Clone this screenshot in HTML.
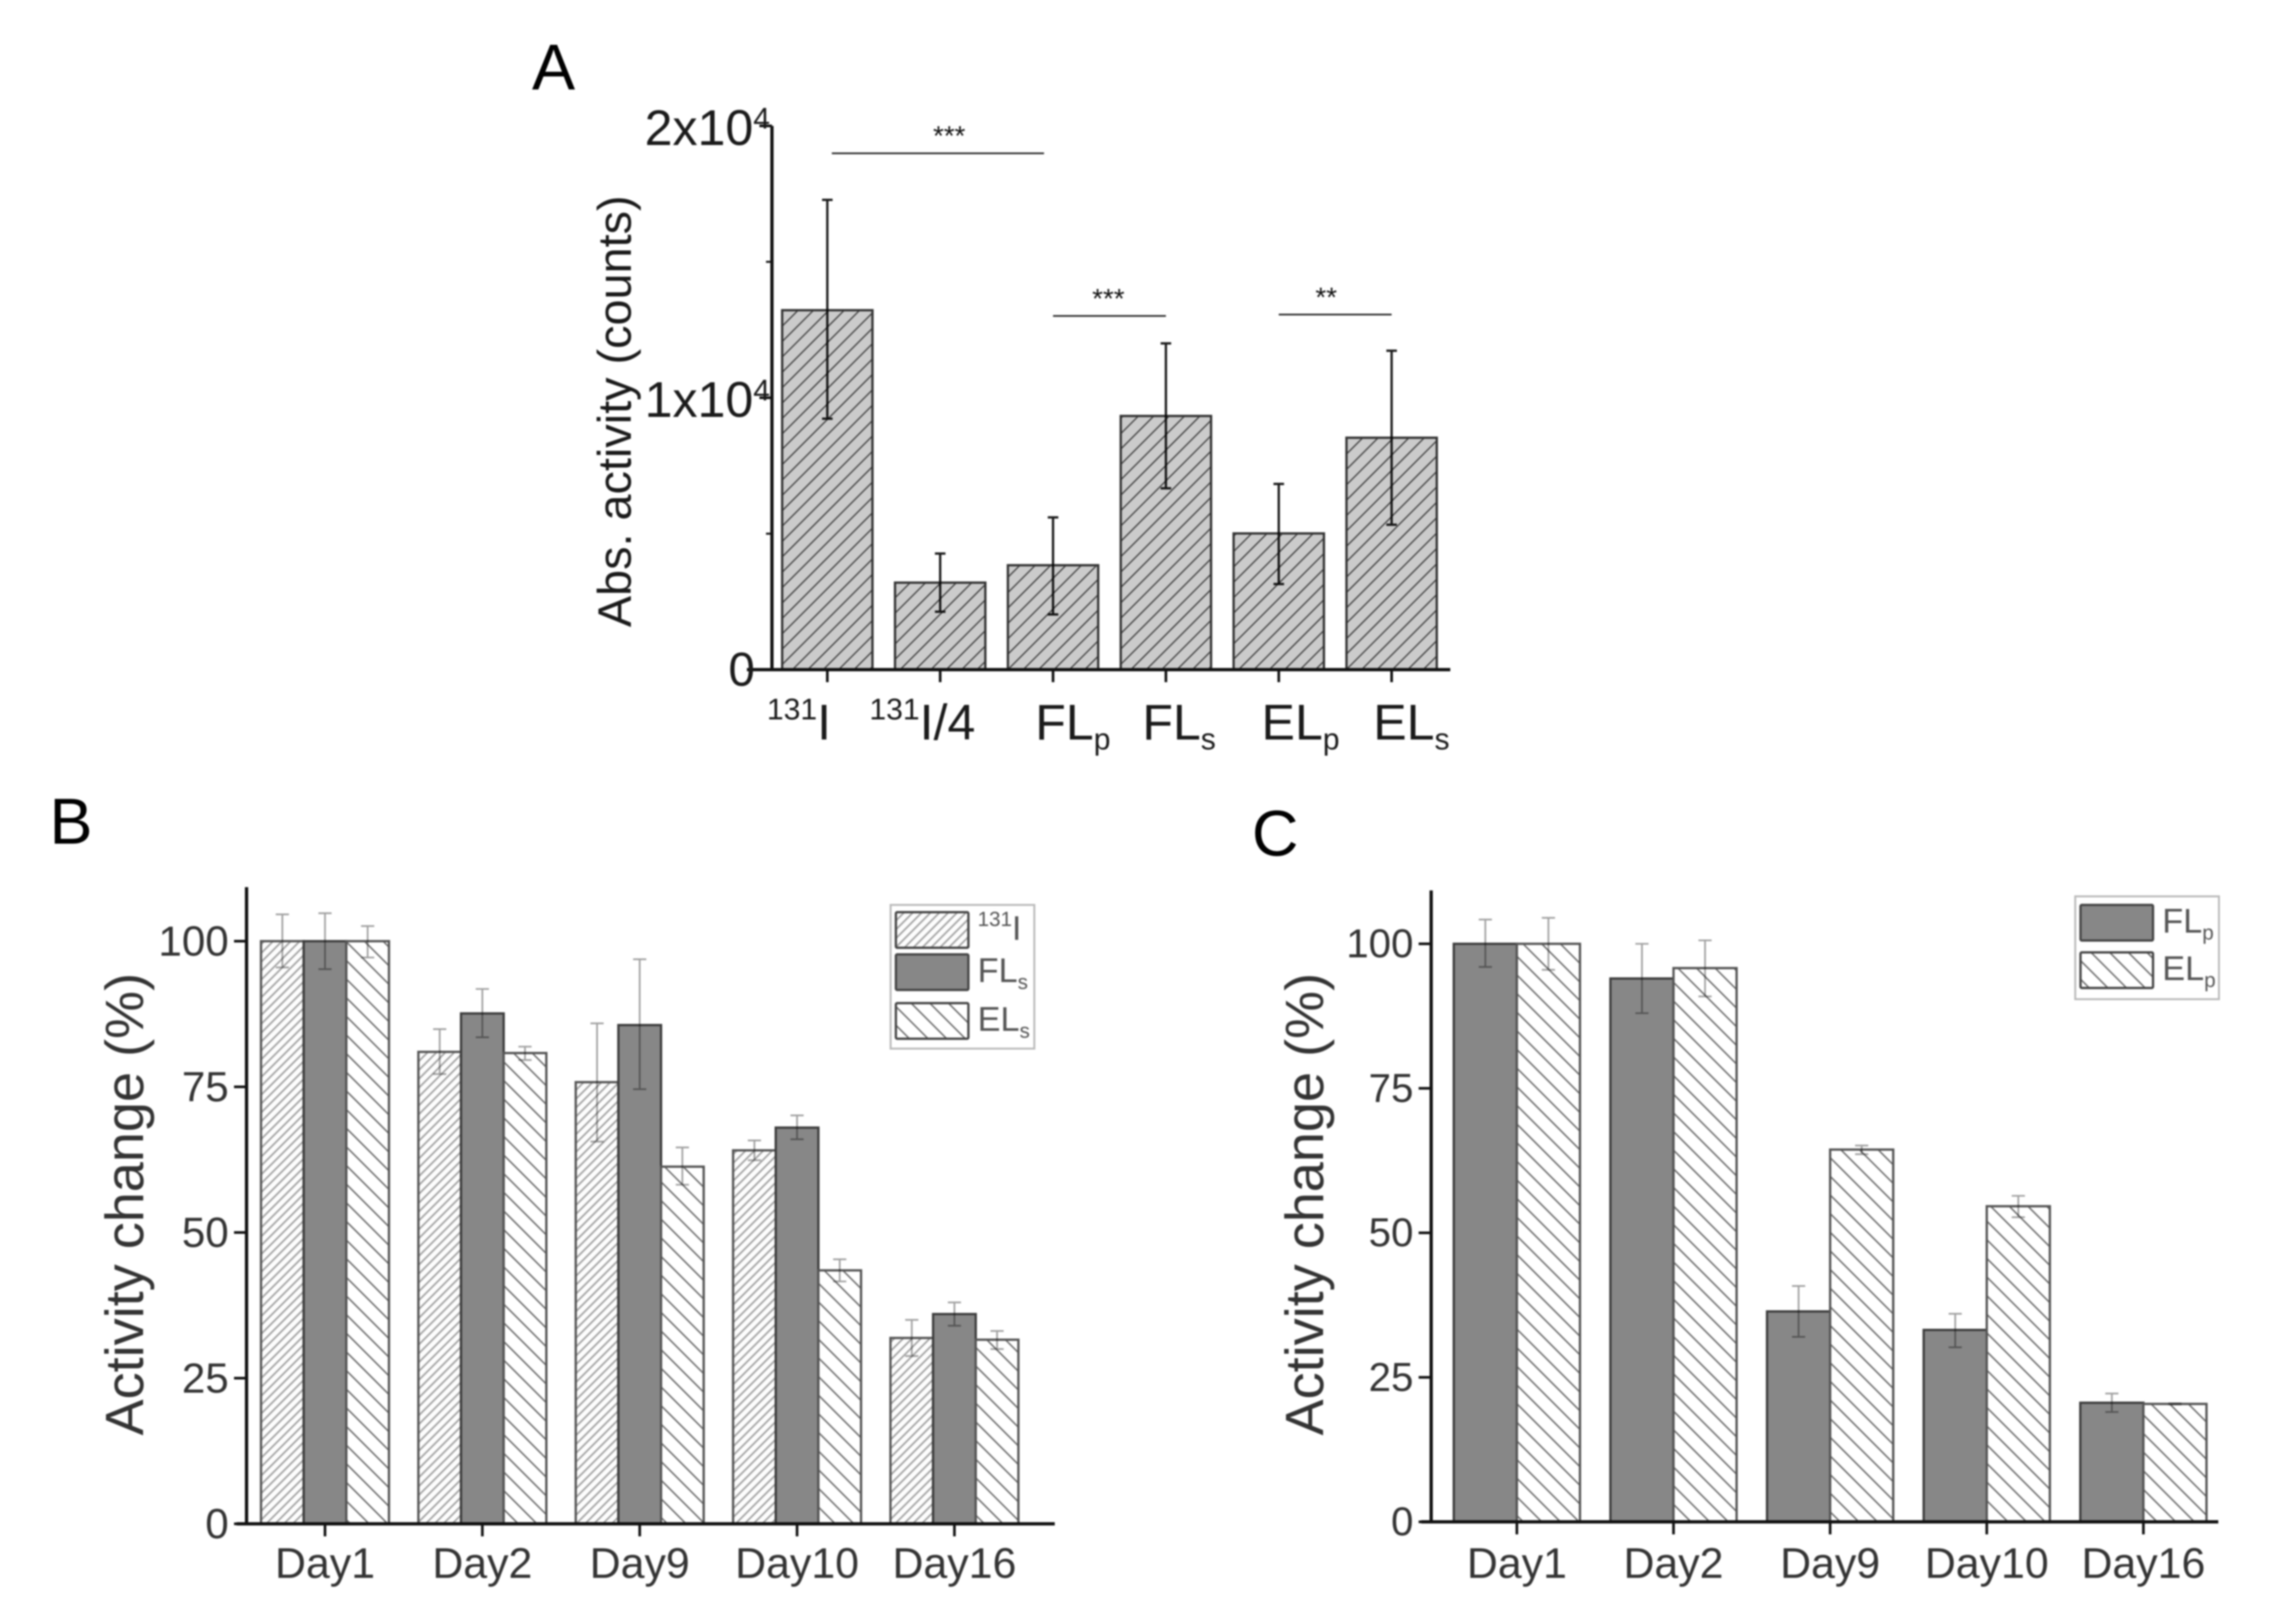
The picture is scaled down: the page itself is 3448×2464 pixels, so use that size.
<!DOCTYPE html>
<html lang="en">
<head>
<meta charset="utf-8">
<title>Activity charts</title>
<style>
html,body{margin:0;padding:0;background:#fff;width:3448px;height:2464px;overflow:hidden}
svg{display:block;filter:blur(1.3px)}
text{font-family:"Liberation Sans",sans-serif}
</style>
</head>
<body>
<svg id="chart" xmlns="http://www.w3.org/2000/svg" width="3448" height="2464" viewBox="0 0 3448 2464">
<defs>
<pattern id="hatch-a" patternUnits="userSpaceOnUse" width="16.5" height="16.5" patternTransform="rotate(45)"><rect width="16.5" height="16.5" fill="#cbcbcb"/><rect width="1.9" height="16.5" fill="#3a3a3a"/></pattern>
<pattern id="hatch-dense" patternUnits="userSpaceOnUse" width="9.5" height="9.5" patternTransform="rotate(45)"><rect width="9.5" height="9.5" fill="#fdfdfd"/><rect width="2.6" height="9.5" fill="#a2a2a2"/></pattern>
<pattern id="hatch-wide" patternUnits="userSpaceOnUse" width="20" height="20" patternTransform="rotate(-45)"><rect width="20" height="20" fill="#fff"/><rect width="2.2" height="20" fill="#666"/></pattern>
</defs>
<text x="807" y="136" font-size="98" fill="#000">A</text>
<text x="75" y="1280" font-size="98" fill="#000">B</text>
<text x="1899" y="1298" font-size="98" fill="#000">C</text>
</svg>
<script>
// Panel A data
const aCategories = ['^131^I', '^131^I/4', 'FL_p_', 'FL_s_', 'EL_p_', 'EL_s_'];
const aValues = [13220, 3200, 3840, 9330, 5010, 8530];
const aErrHigh = [17280, 4270, 5600, 12000, 6830, 11730];
const aErrLow = [9230, 2130, 2030, 6670, 3150, 5330];
const aTicks = [0, 10000, 20000];
const aTickLabels = ['0', '1x10^4^', '2x10^4^'];
const aMinorTicks = [5000, 15000];
const aBracketFrom = [0.04, 2, 4];
const aBracketTo = [1.92, 3, 5];
const aBracketValue = [18990, 13010, 13060];
const aBracketStars = ['***', '***', '**'];
const aBracketStarAt = [1.08, 2.49, 4.42];

// Panel B data
const bCategories = ['Day1', 'Day2', 'Day9', 'Day10', 'Day16'];
const bIodine = [100, 81, 75.8, 64.1, 31.9];
const bIodineHigh = [104.6, 84.9, 85.9, 65.8, 35];
const bIodineLow = [95.5, 77.2, 65.6, 62.4, 28.8];
const bFLs = [100, 87.6, 85.6, 68, 36];
const bFLsHigh = [104.8, 91.8, 96.9, 70.1, 38];
const bFLsLow = [95.2, 83.5, 74.6, 66, 34];
const bELs = [100, 80.8, 61.3, 43.5, 31.6];
const bELsHigh = [102.6, 81.9, 64.6, 45.4, 33.1];
const bELsLow = [97.2, 79.6, 58.2, 41.6, 30];

// Panel C data
const cCategories = ['Day1', 'Day2', 'Day9', 'Day10', 'Day16'];
const cFLp = [100, 94, 36.4, 33.2, 20.6];
const cFLpHigh = [104.2, 100, 40.8, 36, 22.2];
const cFLpLow = [96, 88, 32, 30.2, 19];
const cELp = [100, 95.8, 64.4, 54.6, 20.4];
const cELpHigh = [104.5, 100.6, 65.1, 56.4, 20.5];
const cELpLow = [95.5, 90.9, 63.6, 52.7, 20.3];

const valueTicks = [0, 25, 50, 75, 100];

const NS = 'http://www.w3.org/2000/svg';
const root = document.getElementById('chart');

function make(tag, attrs, parent) {
  const el = document.createElementNS(NS, tag);
  for (const k in attrs) el.setAttribute(k, attrs[k]);
  (parent || root).appendChild(el);
  return el;
}

// "^x^" is superscript and "_x_" is subscript inside a label string
function fillLabel(el, label, size, ratio, rise) {
  const parts = label.split(/(\^[^^]*\^|_[^_]*_)/).filter(Boolean);
  let shift = 0;
  parts.forEach(function (p) {
    const t = document.createElementNS(NS, 'tspan');
    let dy = 0;
    if (p[0] === '^') { dy = -rise * size; t.setAttribute('font-size', size * ratio); t.textContent = p.slice(1, -1); }
    else if (p[0] === '_') { dy = 0.2 * size; t.setAttribute('font-size', size * ratio); t.textContent = p.slice(1, -1); }
    else { t.textContent = p; }
    t.setAttribute('dy', dy - shift);
    shift = dy;
    el.appendChild(t);
  });
}

function drawPanel(cfg) {
  const g = make('g', {});
  
  

  const y = function (v) { return cfg.y0 - (v / cfg.vMax) * (cfg.y0 - cfg.yMaxPx); };
  const x = function (i) { return cfg.x0Center + i * cfg.step; };

  cfg.series.forEach(function (s, si) {
    s.values.forEach(function (v, i) {
      const left = x(i) + (si - cfg.series.length / 2) * cfg.barW;
      const bar = make('rect', { x: left, y: y(v), width: cfg.barW, height: cfg.y0 - y(v), fill: s.fill, stroke: s.stroke, 'stroke-width': 3.5 }, g);
      
      
    });
  });

  cfg.series.forEach(function (s, si) {
    s.values.forEach(function (v, i) {
      const cx = x(i) + (si - cfg.series.length / 2 + 0.5) * cfg.barW;
      const d = 'M' + cx + ' ' + y(s.high[i]) + 'V' + y(s.low[i]) +
        'M' + (cx - cfg.cap) + ' ' + y(s.high[i]) + 'H' + (cx + cfg.cap) +
        'M' + (cx - cfg.cap) + ' ' + y(s.low[i]) + 'H' + (cx + cfg.cap);
      const err = make('path', { d: d, fill: 'none', stroke: cfg.errColor, 'stroke-width': cfg.errW, style: 'mix-blend-mode:multiply' }, g);
      
      
    });
  });

  const yAxis = make('line', { x1: cfg.axisX, x2: cfg.axisX, y1: cfg.axisTop, y2: cfg.y0 + 2, stroke: '#111', 'stroke-width': 5 }, g);
  
  
  const xAxis = make('line', { x1: cfg.xStart, x2: cfg.xEnd, y1: cfg.y0, y2: cfg.y0, stroke: '#111', 'stroke-width': 5 }, g);
  
  

  cfg.ticks.forEach(function (t, i) {
    const tick = make('line', { x1: cfg.axisX - 19, x2: cfg.axisX, y1: y(t), y2: y(t), stroke: '#111', 'stroke-width': 4 }, g);
    
    
    const hasSup = cfg.tickLabels[i].indexOf('^') >= 0;
    const size = hasSup ? cfg.tickSizeSup : cfg.tickSize;
    const lab = make('text', { x: cfg.axisX - (hasSup ? cfg.tickPadSup : cfg.tickPad), y: y(t) + size * (hasSup ? 0.38 : 0.34), 'font-size': size, 'text-anchor': 'end', fill: cfg.textColor }, g);
    
    
    fillLabel(lab, cfg.tickLabels[i], size, 0.6, 0.33);
  });
  (cfg.minorTicks || []).forEach(function (t) {
    const tick = make('line', { x1: cfg.axisX - 9, x2: cfg.axisX, y1: y(t), y2: y(t), stroke: '#111', 'stroke-width': 3 }, g);
    
    
  });

  cfg.categories.forEach(function (c, i) {
    const tick = make('line', { x1: x(i), x2: x(i), y1: cfg.y0, y2: cfg.y0 + 19, stroke: '#111', 'stroke-width': 4 }, g);
    
    
    const lab = make('text', { x: x(i) + (cfg.labelShift ? cfg.labelShift[i] : 0), y: cfg.labelY, 'font-size': cfg.catSize, 'text-anchor': 'middle', fill: cfg.textColor }, g);
    
    
    fillLabel(lab, c, cfg.catSize, 0.6, 0.4);
  });

  const title = make('text', { transform: 'translate(' + cfg.titleX + ' ' + cfg.titleY + ') rotate(-90)', 'font-size': cfg.titleSize, 'text-anchor': 'middle', fill: cfg.textColor }, g);
  
  
  title.textContent = cfg.title;

  return { g: g, x: x, y: y };
}

function drawLegend(parent, box, rows) {
  const lg = make('g', {}, parent);
  
  
  const frame = make('rect', { x: box.x, y: box.y, width: box.w, height: box.h, fill: '#fff', stroke: '#bbb', 'stroke-width': 3 }, lg);
  
  
  rows.forEach(function (r) {
    const sw = make('rect', { x: box.x + 8, y: r.top, width: 110, height: 54, rx: 2, fill: r.fill, stroke: '#444', 'stroke-width': 3.5 }, lg);
    
    
    const t = make('text', { x: box.x + 132, y: r.top + 42, 'font-size': 52, fill: '#555' }, lg);
    
    
    fillLabel(t, r.label, 52, 0.6, 0.4);
  });
}

const panelA = drawPanel({
  name: 'panel-a', title: 'Abs. activity (counts)', titleX: 957, titleY: 624, titleSize: 71, textColor: '#1a1a1a',
  y0: 1016, yMaxPx: 191, vMax: 20000, axisX: 1171, axisTop: 191, xStart: 1133, xEnd: 2200,
  x0Center: 1255, step: 171.2, barW: 137, cap: 8, errColor: '#1a1a1a', errW: 3.5,
  ticks: aTicks, tickLabels: aTickLabels, minorTicks: aMinorTicks, tickPad: 26, tickPadSup: 3, tickSize: 72, tickSizeSup: 76,
  categories: aCategories, catSize: 76, labelY: 1122, labelShift: [-43, -27, 30, 20, 33, 30],
  series: [{ values: aValues, high: aErrHigh, low: aErrLow, fill: 'url(#hatch-a)', stroke: '#333' }]
});

aBracketStars.forEach(function (s, i) {
  const y = panelA.y(aBracketValue[i]);
  const line = make('line', { x1: panelA.x(aBracketFrom[i]), x2: panelA.x(aBracketTo[i]), y1: y, y2: y, stroke: '#222', 'stroke-width': 2.5 }, panelA.g);
  
  
  const t = make('text', { x: panelA.x(aBracketStarAt[i]), y: y - 12, 'font-size': 42, 'text-anchor': 'middle', fill: '#111' }, panelA.g);
  
  
  t.textContent = s;
});

const panelB = drawPanel({
  name: 'panel-b', title: 'Activity change (%)', titleX: 217, titleY: 1827, titleSize: 82, textColor: '#333',
  y0: 2312, yMaxPx: 1428, vMax: 100, axisX: 374, axisTop: 1346, xStart: 359, xEnd: 1600,
  x0Center: 493, step: 238.7, barW: 64.7, cap: 10, errColor: '#a0a0a0', errW: 2.6,
  ticks: valueTicks, tickLabels: valueTicks.map(String), tickPad: 27, tickPadSup: 27, tickSize: 64, tickSizeSup: 64,
  categories: bCategories, catSize: 65, labelY: 2394,
  series: [
    { values: bIodine, high: bIodineHigh, low: bIodineLow, fill: 'url(#hatch-dense)', stroke: '#555' },
    { values: bFLs, high: bFLsHigh, low: bFLsLow, fill: '#878787', stroke: '#3c3c3c' },
    { values: bELs, high: bELsHigh, low: bELsLow, fill: 'url(#hatch-wide)', stroke: '#555' }
  ]
});
drawLegend(panelB.g, { x: 1351, y: 1373, w: 218, h: 218 }, [
  { top: 1384, fill: 'url(#hatch-dense)', label: '^131^I' },
  { top: 1448, fill: '#878787', label: 'FL_s_' },
  { top: 1522, fill: 'url(#hatch-wide)', label: 'EL_s_' }
]);

const panelC = drawPanel({
  name: 'panel-c', title: 'Activity change (%)', titleX: 2007, titleY: 1827, titleSize: 82, textColor: '#333',
  y0: 2309, yMaxPx: 1432, vMax: 100, axisX: 2171, axisTop: 1351, xStart: 2156, xEnd: 3365,
  x0Center: 2301, step: 237.6, barW: 95.7, cap: 10, errColor: '#a0a0a0', errW: 2.6,
  ticks: valueTicks, tickLabels: valueTicks.map(String), tickPad: 27, tickPadSup: 27, tickSize: 61, tickSizeSup: 61,
  categories: cCategories, catSize: 65, labelY: 2394,
  series: [
    { values: cFLp, high: cFLpHigh, low: cFLpLow, fill: '#878787', stroke: '#3c3c3c' },
    { values: cELp, high: cELpHigh, low: cELpLow, fill: 'url(#hatch-wide)', stroke: '#555' }
  ]
});
drawLegend(panelC.g, { x: 3148, y: 1360, w: 218, h: 156 }, [
  { top: 1373, fill: '#878787', label: 'FL_p_' },
  { top: 1445, fill: 'url(#hatch-wide)', label: 'EL_p_' }
]);
</script>
</body>
</html>
